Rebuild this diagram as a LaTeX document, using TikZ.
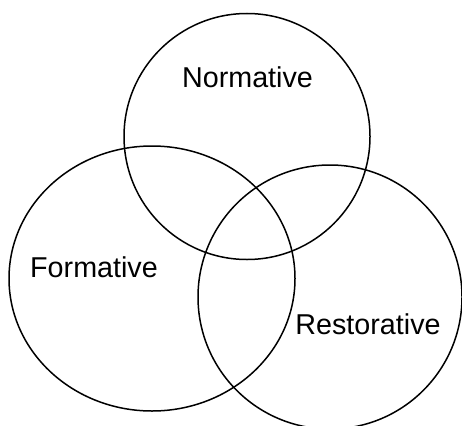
\documentclass[tikz,border=0pt]{standalone}
\usepackage{fontspec}
\setmainfont{Liberation Sans}
\usepackage{tikz}
\usetikzlibrary{shapes.geometric}
\tikzstyle{Set}=[draw=black,line width=1.5pt,inner sep=0pt]
\tikzstyle{SetName}=[font=\fontsize{28.7}{34}\selectfont,anchor=base,
inner sep=0pt]
\begin{document}
\begin{tikzpicture}[x=1pt,y=-1pt]
            \useasboundingbox(0,0)rectangle(462,425);
            \node[Set,circle,minimum size=246pt](N)at(247.00,136.50){};
            \node[Set,ellipse,minimum width=286pt,
                minimum height=265pt](F)at(152.00,278.50){};
            \node[Set,circle,minimum size=264pt](R)at(330.00,297.00){};
            \node[SetName](NName)at(247.50,88.00){Normative};
            \node[SetName](FName)at(94.00,277.00){Formative};
            \node[SetName](RName)at(368.00,334.70){Restorative};
        \end{tikzpicture}
\end{document}
